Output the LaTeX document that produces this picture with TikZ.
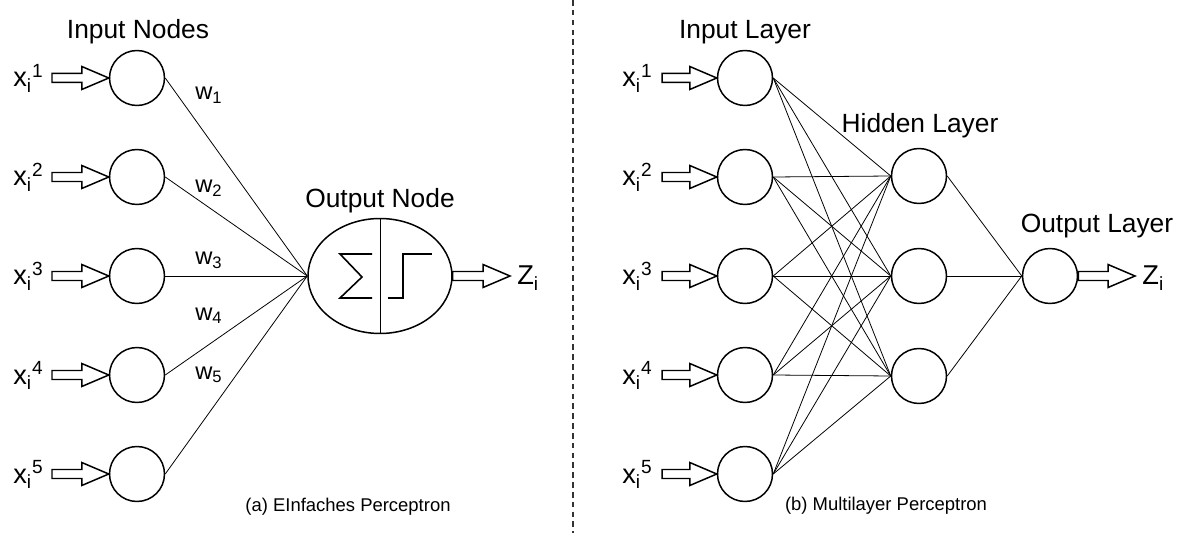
\documentclass[tikz,border=0pt]{standalone}
\usepackage{fontspec}
\setmainfont{Liberation Sans}
\usetikzlibrary{calc,positioning,shapes.geometric}

\tikzset{
  neuron/.style={circle, draw, line width=0.85pt, minimum size=1.1cm, inner sep=0pt},
  link/.style={line width=0.45pt},
  fatline/.style={line width=0.85pt, fill=white, line join=miter},
  divider/.style={line width=1.1pt, gray!40!black, dash pattern=on 3.2pt off 2.4pt},
  heading/.style={font=\fontsize{15}{18}\selectfont, anchor=base, inner sep=0pt},
  inlabel/.style={font=\fontsize{15.5}{18}\selectfont, anchor=base west, inner sep=0pt},
  weight/.style={font=\fontsize{13.5}{16}\selectfont, anchor=base west, inner sep=0pt},
  caption/.style={font=\fontsize{10.5}{12}\selectfont, anchor=base, inner sep=0pt},
}

% hollow block arrow, tip at #2
\newcommand{\fatarrow}[2]{%
  \draw[fatline] ($(#1)+(0,-4.5)$) -- ($(#2)+(-27,-4.5)$) -- ($(#2)+(-27,-11.5)$)
    -- (#2) -- ($(#2)+(-27,11.5)$) -- ($(#2)+(-27,4.5)$) -- ($(#1)+(0,4.5)$) -- cycle;}

\begin{document}
\begin{tikzpicture}[x=0.02cm, y=-0.02cm]
	\useasboundingbox (0,0) rectangle (1182,533);

	% (a) single perceptron
	\foreach \i/\y in {1/78,2/177,3/276,4/375,5/474} {
		\node[neuron] (a\i) at (137,\y) {};
		\node[inlabel] (ax\i) at (13,\y+9) {x\textsubscript{i}\textsuperscript{\i}};
		\coordinate (as\i) at (52,\y);
		\fatarrow{as\i}{a\i.west}
	}
	\node[ellipse, draw, line width=0.85pt, minimum width=2.88cm, minimum height=2.3cm, inner sep=0pt] (out) at (380,276) {};
	\draw[link] (out.north) -- (out.south);
	\draw[line width=0.9pt] ($(out)+(-8,-22)$) -- ($(out)+(-40,-22)$) -- ($(out)+(-18,1)$) -- ($(out)+(-40,22)$) -- ($(out)+(-8,22)$);
	\draw[line width=0.9pt] ($(out)+(8,22)$) -- ($(out)+(23,22)$) -- ($(out)+(23,-22)$) -- ($(out)+(52,-22)$);

	\foreach \i in {1,...,5} {
		\draw[link] (a\i.east) -- (out.west);
	}
	\foreach \i/\y in {1/100,2/193,3/265,4/320,5/379} {
		\node[weight] (w\i) at (195,\y) {w\textsubscript{\i}};
	}

	\coordinate (za) at (510,276);
	\fatarrow{out.east}{za}
	\node[inlabel] (zia) at (517,285) {Z\textsubscript{i}};

	\node[heading] (hin) at (138,39) {Input Nodes};
	\node[heading] (hout) at (380,208) {Output Node};
	\node[caption] (capa) at (348,511) {(a) EInfaches Perceptron};

	\coordinate (dtop) at (573,0);
	\coordinate (dbot) at (573,533);
	\draw[divider] (dtop) -- (dbot);

	% (b) multilayer perceptron
	\foreach \i/\y in {1/78,2/177,3/276,4/375,5/474} {
		\node[neuron] (b\i) at (745,\y) {};
		\node[inlabel] (bx\i) at (622,\y+9) {x\textsubscript{i}\textsuperscript{\i}};
		\coordinate (bs\i) at (662,\y);
		\fatarrow{bs\i}{b\i.west}
	}
	\foreach \j/\y in {1/176,2/276,3/376} {
		\node[neuron] (h\j) at (919,\y) {};
	}
	\node[neuron] (o) at (1050,276) {};

	\foreach \i in {1,...,5} {
		\foreach \j in {1,2,3} {
			\draw[link] (b\i.east) -- (h\j.west);
		}
	}
	\foreach \j in {1,2,3} {
		\draw[link] (h\j.east) -- (o.west);
	}

	\coordinate (zb) at (1135,276);
	\fatarrow{o.east}{zb}
	\node[inlabel] (zib) at (1142,285) {Z\textsubscript{i}};

	\node[heading] (hinl) at (745,39) {Input Layer};
	\node[heading] (hhid) at (920,133) {Hidden Layer};
	\node[heading] (houtl) at (1097,233) {Output Layer};
	\node[caption] (capb) at (886,510) {(b) Multilayer Perceptron};
\end{tikzpicture}
\end{document}
